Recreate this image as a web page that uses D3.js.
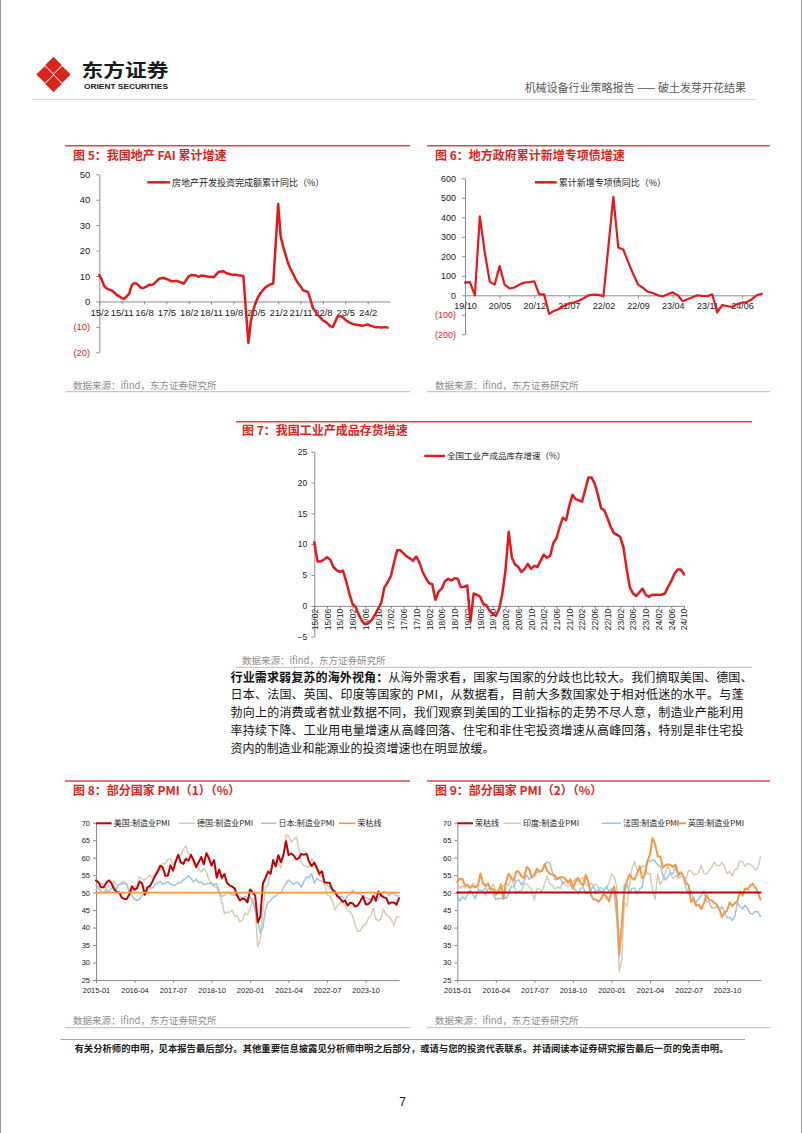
<!DOCTYPE html>
<html><head><meta charset="utf-8">
<script src="https://cdn.jsdelivr.net/npm/d3@7"></script>
<style>body{margin:0;background:#fff}svg{display:block}</style>
</head><body>
<svg id="page" width="802" height="1133"></svg>
<script>
// ---------------- DATA ----------------
const faiTicks = ['15/2','15/11','16/8','17/5','18/2','18/11','19/8','20/5','21/2','21/11','22/8','23/5','24/2'];
// 房地产开发投资完成额累计同比, 2015/2 .. 2024/11 (January has no data)
const faiValues = [
  10.4, 8.5, 6.0, 5.1, 4.6, 4.3, 3.5, 2.6, 2.0, 1.3, 1.0,
  null, 3.0, 6.2, 7.2, 7.0, 6.1, 5.3, 5.4, 5.8, 6.6, 6.5, 6.9,
  null, 8.9, 9.1, 9.3, 8.8, 8.5, 7.9, 7.9, 8.1, 7.8, 7.5, 7.0,
  null, 9.9, 10.4, 10.3, 10.2, 9.7, 10.2, 10.1, 9.9, 9.7, 9.7, 9.5,
  null, 11.6, 11.8, 11.9, 11.2, 10.9, 10.6, 10.5, 10.5, 10.3, 10.2, 9.9,
  null, -16.3, -7.7, -3.3, -0.3, 1.9, 3.4, 4.6, 5.6, 6.3, 6.8, 7.0,
  null, 38.3, 25.6, 21.6, 18.3, 15.0, 12.7, 10.9, 8.8, 7.2, 6.0, 4.4,
  null, 3.7, 0.7, -2.7, -4.0, -5.4, -6.4, -7.4, -8.0, -8.8, -9.8, -10.0,
  null, -5.7, -5.8, -6.2, -7.2, -7.9, -8.5, -8.8, -9.1, -9.3, -9.4, -9.6,
  null, -9.0, -9.5, -9.8, -10.1, -10.1, -10.2, -10.2, -10.1, -10.3, null
];
const faiYTicks = [50, 40, 30, 20, 10, 0, -10, -20];

const bondTicks = ['19/10','20/05','20/12','21/07','22/02','22/09','23/04','23/11','24/06'];
// 累计新增专项债同比, 2019/10 .. 2024/10
const bondValues = [
  65, 68, 0, 405, 220, 70, 55, 150, 55, 35,
  40, 55, 65, 68, 72, 5, 5, -95, -80, -70,
  -55, -42, -38, -28, -15, 0, 3, 2, -5, 250,
  505, 245, 235, 170, 110, 55, 38, 18, 12, 0,
  -5, 5, 15, 0, -30, -20, -10, 0, -3, -5,
  5, -88, -50, -55, -60, -45, -38, -35, -20, 0, 8
];
const bondYTicks = [600, 500, 400, 300, 200, 100, 0, -100, -200];

// 全国工业产成品库存增速, 2015/02 .. 2024/10
const invValues = [
  10.3, 7.2, 7.2, 7.5, 7.9, 7.5, 6.3, 5.8, 5.5, 5.7, 4.0,
  2.0, 0.3, -0.2, -1.5, -2.5, -3.0, -2.8, -2.3, -1.5, -0.5, 0.5, 3.0,
  3.8, 4.8, 7.0, 9.0, 9.0, 8.5, 8.0, 7.7, 7.3, 8.0, 7.0, 5.5,
  4.5, 3.7, 3.5, 1.0, 2.3, 2.8, 4.0, 4.4, 4.1, 4.5, 4.4, 3.0,
  3.1, 3.3, -2.5, 2.0, 1.8, 1.5, 0.3, 0.1, -0.8, -1.3, -1.6, -0.5,
  2.0, 5.8, 12.0, 7.8, 6.7, 6.3, 5.5, 6.0, 6.8, 6.0, 6.5, 6.3,
  7.3, 8.3, 7.8, 8.1, 10.2, 11.0, 12.8, 14.3, 13.9, 16.2, 18.0, 17.3,
  17.1, 16.9, 18.8, 20.8, 20.8, 19.8, 18.0, 15.8, 15.5, 14.2, 12.8, 11.8,
  11.5, 11.2, 9.5, 6.0, 3.0, 2.0, 1.6, 2.2, 2.8, 1.8, 1.5, 1.8,
  1.8, 1.8, 1.8, 2.0, 3.1, 4.0, 5.2, 5.9, 5.9, 5.1
];
const invTicks = ['15/02','15/06','15/10','16/02','16/06','16/10','17/02','17/06','17/10','18/02','18/06','18/10',
  '19/02','19/06','19/10','20/02','20/06','20/10','21/02','21/06','21/10','22/02','22/06','22/10',
  '23/02','23/06','23/10','24/02','24/06','24/10'];
const invYTicks = [25, 20, 15, 10, 5, 0, -5];

// PMI 2015-01 .. 2024-11
const pmiTicks = ['2015-01','2016-04','2017-07','2018-10','2020-01','2021-04','2022-07','2023-10'];
const pmiYTicks = [70, 65, 60, 55, 50, 45, 40, 35, 30, 25];
const usPMI = [
  53.5,52.9,51.5,51.5,52.8,53.5,52.7,51.1,50.2,50.1,48.6,48.2,
  48.2,49.5,51.8,50.8,51.3,53.2,52.6,49.4,51.5,51.9,53.2,54.7,
  56.0,57.7,57.2,54.8,54.9,57.8,56.3,58.8,60.8,58.7,58.2,59.7,
  59.1,60.8,59.3,57.3,58.7,60.2,58.1,61.3,59.8,57.7,59.3,54.3,
  56.6,54.2,55.3,52.8,52.1,51.7,51.2,49.1,47.8,48.3,48.1,47.2,
  50.9,50.1,49.1,41.5,43.1,52.6,54.2,56.0,55.4,59.3,57.5,60.7,
  58.7,60.8,64.7,60.7,61.2,60.6,59.5,59.9,61.1,60.8,61.1,58.8,
  57.6,58.6,57.1,55.4,56.1,53.0,52.8,52.8,50.9,50.2,49.0,48.4,
  47.4,47.7,46.3,47.1,46.9,46.0,46.4,47.6,49.0,46.7,46.7,47.4,
  49.1,47.8,50.3,49.2,48.7,48.5,46.8,47.2,47.2,46.5,48.4
];
const dePMI = [
  50.9,51.1,52.8,52.0,51.1,51.9,51.8,53.3,52.3,52.1,52.9,53.2,
  52.3,50.5,50.7,51.8,52.1,54.5,53.8,53.6,54.3,55.0,54.3,55.6,
  56.4,56.8,58.3,58.2,59.5,59.6,58.1,59.3,60.6,60.6,62.5,63.3,
  61.1,60.6,58.2,58.1,56.9,55.9,56.9,55.9,53.7,52.2,51.8,51.5,
  49.7,47.6,44.1,44.4,44.3,45.0,43.2,43.5,41.7,42.1,44.1,43.7,
  45.3,48.0,45.4,34.5,36.6,45.2,51.0,52.2,56.4,58.2,57.8,58.3,
  57.1,60.7,66.6,66.2,64.4,65.1,65.9,62.6,58.4,57.8,57.4,57.4,
  59.8,58.4,56.9,54.6,54.8,52.0,49.3,49.1,47.8,45.1,46.2,47.1,
  47.3,46.3,44.7,44.5,43.2,40.6,38.8,39.1,40.6,40.8,42.6,43.3,
  45.5,42.5,41.9,42.5,45.4,43.5,43.2,42.4,40.6,43.0,43.0
];
const jpPMI = [
  52.2,51.6,50.3,49.9,50.9,50.1,51.2,51.7,51.0,52.4,52.6,52.6,
  52.3,50.1,49.1,48.2,47.7,48.1,49.3,49.5,50.4,51.4,51.3,52.4,
  52.7,53.3,52.4,52.7,53.1,52.4,52.1,52.2,52.9,52.8,53.6,54.0,
  54.8,54.1,53.1,53.8,52.8,53.0,52.3,52.5,52.5,52.9,52.2,52.6,
  50.3,48.9,49.2,50.2,49.8,49.3,49.4,49.3,48.9,48.4,48.9,48.4,
  48.8,47.8,44.8,41.9,38.4,40.1,45.2,47.2,47.7,48.7,49.0,50.0,
  49.8,51.4,52.7,53.6,53.0,52.4,53.0,52.7,51.5,53.2,54.5,54.3,
  55.4,52.7,54.1,53.5,53.3,52.7,52.1,51.5,50.8,50.7,49.0,48.9,
  48.9,47.7,49.2,49.5,50.6,49.8,49.6,49.6,48.5,48.7,48.3,47.9,
  48.0,47.2,48.2,49.6,50.4,50.0,49.1,49.8,49.7,49.2,49.0
];
const inPMI = [
  52.9,51.2,52.1,51.3,52.6,51.3,52.7,52.3,51.2,50.7,50.3,49.1,
  51.1,51.1,52.4,50.5,50.7,51.7,51.8,52.6,52.1,54.4,52.3,49.6,
  50.4,50.7,52.5,52.5,51.6,50.9,47.9,51.2,51.0,50.3,52.6,54.7,
  52.4,52.1,51.0,51.6,51.2,53.1,52.3,51.7,52.2,53.1,54.0,53.2,
  53.9,54.3,52.6,51.8,52.7,52.1,52.5,51.4,51.4,50.6,51.2,52.7,
  55.3,54.5,51.8,27.4,30.8,47.2,46.0,52.0,56.8,58.9,56.3,56.4,
  57.7,57.5,55.4,55.5,50.8,48.1,55.3,52.3,53.7,55.9,57.6,55.5,
  54.0,54.9,54.0,54.7,54.6,53.9,56.4,56.2,55.1,55.3,55.7,57.8,
  55.4,55.3,56.4,57.2,58.7,57.8,57.7,58.6,57.5,55.5,56.0,54.9,
  56.5,56.9,59.1,58.8,57.5,58.3,58.1,57.5,56.5,57.0,60.2
];
const frPMI = [
  49.2,47.6,48.8,48.0,49.4,50.7,49.6,48.3,50.6,50.6,50.6,51.4,
  50.0,50.2,49.6,48.0,48.4,48.3,48.6,48.3,49.7,51.8,51.7,53.5,
  53.6,52.2,53.3,55.1,53.8,54.8,54.9,55.8,56.1,56.1,57.7,58.8,
  58.4,55.9,53.7,53.8,54.4,52.5,53.3,53.5,52.5,51.2,50.8,49.7,
  51.2,51.5,49.7,50.0,50.6,52.0,49.7,51.1,50.1,50.7,51.7,50.4,
  51.1,49.8,43.2,31.5,40.6,52.3,52.4,49.8,51.2,51.3,49.6,51.1,
  51.6,56.1,59.3,58.9,59.4,59.0,58.0,57.5,55.0,53.6,54.6,55.6,
  55.5,57.2,54.7,55.7,54.6,51.4,49.5,50.6,47.7,47.2,48.3,49.2,
  50.5,47.4,47.3,45.6,45.7,46.0,45.1,46.0,44.2,42.8,42.9,42.1,
  43.1,47.1,46.2,45.3,46.4,45.4,44.0,43.9,44.6,44.5,43.1
];
const ukPMI = [
  53.0,54.0,54.0,52.0,52.0,51.4,51.9,51.5,51.8,55.5,52.7,51.9,
  52.6,50.8,51.0,49.4,50.1,52.4,48.2,53.3,55.4,54.3,53.4,56.1,
  55.9,54.6,54.2,57.3,56.7,54.3,55.1,56.9,55.9,56.3,58.2,56.3,
  55.3,55.2,54.9,53.9,54.4,54.4,54.0,52.8,53.8,51.1,53.1,54.2,
  52.8,52.0,55.1,53.1,49.4,48.0,48.0,47.4,48.3,49.6,48.9,47.5,
  50.0,51.7,47.8,32.6,40.7,50.1,53.3,55.2,54.1,53.7,55.6,57.5,
  54.1,55.1,58.9,60.9,65.6,63.9,60.4,60.3,57.1,57.8,58.1,57.9,
  57.3,58.0,55.2,55.8,54.6,52.8,52.1,47.3,48.4,46.2,46.5,45.3,
  47.0,49.3,47.9,47.8,47.1,46.5,45.3,43.0,44.3,44.8,47.2,46.2,
  47.0,47.5,50.3,49.1,51.2,50.9,52.1,52.5,51.5,49.9,48.0
];
const boomLine = 50;

// ---------------- HELPERS ----------------
const CJK = '"Noto Sans CJK SC","Noto Sans",sans-serif';
const LAT = '"Liberation Sans",Arial,sans-serif';
const RED = '#E3191B';
const TITLE_RED = '#DA251D';
const AXIS = '#8c8c8c';

function monthSeq(y, m, n, fmt) {
  const out = [];
  for (let i = 0; i < n; i++) { out.push(fmt(y, m)); m++; if (m > 12) { m = 1; y++; } }
  return out;
}
const yy = y => String(y % 100).padStart(2, '0');
const mm = m => String(m).padStart(2, '0');

const faiMonths = monthSeq(2015, 2, faiValues.length, (y, m) => `${yy(y)}/${m}`);
const bondMonths = monthSeq(2019, 10, bondValues.length, (y, m) => `${yy(y)}/${mm(m)}`);
const invMonths = monthSeq(2015, 2, invValues.length, (y, m) => `${yy(y)}/${mm(m)}`);
const pmiMonths = monthSeq(2015, 1, usPMI.length, (y, m) => `${y}-${mm(m)}`);

const svg = d3.select('#page');
svg.append('rect').attr('width', 802).attr('height', 1133).attr('fill', '#fff');

function styleAxis(g, size, fill) {
  g.attr('font-family', null).attr('font-size', null);
  g.selectAll('path.domain').attr('stroke', AXIS).attr('stroke-width', 1);
  g.selectAll('.tick line').attr('stroke', AXIS);
  g.selectAll('.tick text').attr('font-family', LAT).attr('font-size', size).attr('fill', fill || '#222');
}

function frame(x1, x2, topY, title, titleX, titleY, srcX, srcY, botY) {
  svg.append('line').attr('x1', x1).attr('x2', x2).attr('y1', topY).attr('y2', topY)
    .attr('stroke', '#D94A4A').attr('stroke-width', 1.6);
  svg.append('text').attr('x', titleX).attr('y', titleY).text(title)
    .attr('font-family', CJK).attr('font-size', 12).attr('font-weight', 'bold').attr('fill', TITLE_RED);
  svg.append('text').attr('x', srcX).attr('y', srcY).text('数据来源：ifind，东方证券研究所')
    .attr('font-family', CJK).attr('font-size', 9.5).attr('fill', '#8c8c8c');
  svg.append('line').attr('x1', x1).attr('x2', x2).attr('y1', botY).attr('y2', botY)
    .attr('stroke', '#EBA8A8').attr('stroke-width', 1);
}

function drawLine(x, y, cats, vals, color, width) {
  const data = cats.map((c, i) => ({ c, v: vals[i] })).filter(d => d.v != null);
  svg.append('path').datum(data)
    .attr('fill', 'none').attr('stroke', color).attr('stroke-width', width)
    .attr('stroke-linejoin', 'round').attr('stroke-linecap', 'round')
    .attr('d', d3.line().x(d => x(d.c)).y(d => y(d.v)));
}

function legendItem(x1, x2, y, text, color, width, size) {
  svg.append('line').attr('x1', x1).attr('x2', x2).attr('y1', y).attr('y2', y)
    .attr('stroke', color).attr('stroke-width', width);
  svg.append('text').attr('x', x2 + 2).attr('y', y).attr('dy', '0.36em').text(text)
    .attr('font-family', CJK).attr('font-size', size).attr('fill', '#222');
}

const parenFmt = d => d < 0 ? `(${-d})` : `${d}`;

// ---------------- PAGE HEADER ----------------
svg.append('line').attr('x1', 0.5).attr('x2', 0.5).attr('y1', 0).attr('y2', 1133).attr('stroke', '#9a9a9a');
svg.append('line').attr('x1', 801.5).attr('x2', 801.5).attr('y1', 0).attr('y2', 1133).attr('stroke', '#9a9a9a');
const logo = svg.append('g');
[[53.5, 65.2], [44.8, 74.5], [62.2, 74.5], [53.5, 83.8]].forEach(([cx, cy]) => {
  const r = 7.6;
  logo.append('path').attr('d', `M${cx},${cy - r}L${cx + r},${cy}L${cx},${cy + r}L${cx - r},${cy}Z`)
    .attr('fill', '#D7261E').attr('stroke', '#D7261E').attr('stroke-width', 1.2).attr('stroke-linejoin', 'round');
});
svg.append('text').attr('x', 81.5).attr('y', 77).text('东方证券')
  .attr('font-family', CJK).attr('font-size', 18).attr('font-weight', 'bold').attr('fill', '#1a1a1a')
  .attr('textLength', 87).attr('lengthAdjust', 'spacingAndGlyphs');
svg.append('text').attr('x', 84).attr('y', 88.5).text('ORIENT SECURITIES')
  .attr('font-family', LAT).attr('font-size', 7.8).attr('font-weight', 'bold').attr('fill', '#1a1a1a')
  .attr('textLength', 84).attr('lengthAdjust', 'spacingAndGlyphs');
svg.append('text').attr('x', 746).attr('y', 92).attr('text-anchor', 'end')
  .text('机械设备行业策略报告 —— 破土发芽开花结果')
  .attr('font-family', CJK).attr('font-size', 11).attr('fill', '#595959');
svg.append('line').attr('x1', 32).attr('x2', 756).attr('y1', 99.5).attr('y2', 99.5)
  .attr('stroke', '#d9d9d9').attr('stroke-width', 1);

// ---------------- CHART 5 ----------------
frame(65, 410, 145.7, '图 5：我国地产 FAI 累计增速', 73, 159.6, 73, 388.6, 391.7);
{
  const x = d3.scalePoint().domain(faiMonths).range([99.3, 390]);
  const y = d3.scaleLinear().domain([-20, 50]).range([352.3, 174.3]);
  const gy = svg.append('g').attr('transform', 'translate(99.3,0)')
    .call(d3.axisLeft(y).tickValues(faiYTicks).tickFormat(parenFmt).tickSize(3).tickSizeOuter(0).tickPadding(6));
  styleAxis(gy, 9.5);
  gy.selectAll('.tick text').attr('fill', d => d < 0 ? RED : '#222');
  const gx = svg.append('g').attr('transform', `translate(0,${y(0)})`)
    .call(d3.axisBottom(x).tickValues(faiTicks).tickSize(3).tickSizeOuter(0).tickPadding(5));
  styleAxis(gx, 9.5);
  drawLine(x, y, faiMonths, faiValues, RED, 2.5);
  legendItem(147.3, 170, 182.3, '房地产开发投资完成额累计同比（%）', RED, 2.5, 9);
}

// ---------------- CHART 6 ----------------
frame(427, 770, 145.7, '图 6：地方政府累计新增专项债增速', 435, 159.6, 435, 388.6, 391.7);
{
  const x = d3.scalePoint().domain(bondMonths).range([465, 761.7]);
  const y = d3.scaleLinear().domain([-200, 600]).range([334.3, 178.3]);
  const gy = svg.append('g').attr('transform', 'translate(465,0)')
    .call(d3.axisLeft(y).tickValues(bondYTicks).tickFormat(parenFmt).tickSize(3).tickSizeOuter(0).tickPadding(6));
  styleAxis(gy, 9);
  gy.selectAll('.tick text').attr('fill', d => d < 0 ? RED : '#222');
  const gx = svg.append('g').attr('transform', `translate(0,${y(0)})`)
    .call(d3.axisBottom(x).tickValues(bondTicks).tickSize(3).tickSizeOuter(0).tickPadding(4));
  styleAxis(gx, 9);
  drawLine(x, y, bondMonths, bondValues, RED, 2.2);
  legendItem(535, 556.7, 182.3, '累计新增专项债同比（%）', RED, 2.5, 9);
}

// ---------------- CHART 7 ----------------
frame(236, 752, 421.7, '图 7：我国工业产成品存货增速', 242, 434.6, 242, 663.6, 667.3);
{
  const x = d3.scalePoint().domain(invMonths).range([314.3, 684]);
  const y = d3.scaleLinear().domain([-5, 25]).range([636.7, 451.7]);
  const gy = svg.append('g').attr('transform', 'translate(314.3,0)')
    .call(d3.axisLeft(y).tickValues(invYTicks).tickSize(3).tickSizeOuter(0).tickPadding(4));
  styleAxis(gy, 8.5);
  const gx = svg.append('g').attr('transform', `translate(0,${y(0)})`)
    .call(d3.axisBottom(x).tickValues(invTicks).tickSize(3).tickSizeOuter(0));
  styleAxis(gx, 8.5);
  gx.selectAll('.tick text').attr('transform', 'rotate(-90)').attr('text-anchor', 'end')
    .attr('x', -3).attr('y', 0).attr('dy', '0.35em');
  drawLine(x, y, invMonths, invValues, RED, 2.5);
  legendItem(424.3, 445, 456, '全国工业产成品库存增速（%）', RED, 2.5, 8.5);
}

// ---------------- PARAGRAPH ----------------
{
  const lines = [
    ['行业需求弱复苏的海外视角：', '从海外需求看，国家与国家的分歧也比较大。我们摘取美国、德国、', 522],
    ['', '日本、法国、英国、印度等国家的 PMI，从数据看，目前大多数国家处于相对低迷的水平。与蓬', 513],
    ['', '勃向上的消费或者就业数据不同，我们观察到美国的工业指标的走势不尽人意，制造业产能利用', 513],
    ['', '率持续下降、工业用电量增速从高峰回落、住宅和非住宅投资增速从高峰回落，特别是非住宅投', 513],
    ['', '资内的制造业和能源业的投资增速也在明显放缓。', null]
  ];
  lines.forEach(([b, t, w], i) => {
    const tx = svg.append('text').attr('x', 230.5).attr('y', 681.5 + i * 17.9)
      .attr('font-family', CJK).attr('font-size', 12).attr('fill', '#111');
    if (b) tx.append('tspan').attr('font-weight', 'bold').text(b);
    tx.append('tspan').text(t);
    if (w) tx.attr('textLength', w).attr('lengthAdjust', 'spacing');
  });
}

// ---------------- CHART 8 / 9 ----------------
function pmiChart(x0, x1, seriesList, legend) {
  const x = d3.scalePoint().domain(pmiMonths).range([x0, x1]);
  const y = d3.scaleLinear().domain([25, 70]).range([980, 822.7]);
  const gy = svg.append('g').attr('transform', `translate(${x0},0)`)
    .call(d3.axisLeft(y).tickValues(pmiYTicks).tickSize(3).tickSizeOuter(0).tickPadding(3));
  styleAxis(gy, 7.5);
  const gx = svg.append('g').attr('transform', 'translate(0,980)')
    .call(d3.axisBottom(x).tickValues(pmiTicks).tickSize(3).tickSizeOuter(0).tickPadding(5));
  styleAxis(gx, 7.5);
  seriesList.forEach(s => {
    const vals = Array.isArray(s.v) ? s.v : pmiMonths.map(() => s.v);
    drawLine(x, y, pmiMonths, vals, s.color, s.width);
  });
  legend.forEach(l => legendItem(l.x1, l.x2, 823.3, l.name, l.color, l.width, 8));
}

frame(65, 410, 781, '图 8：部分国家 PMI（1）（%）', 73, 794.6, 73, 1023.6, 1027.7);
pmiChart(96, 399, [
  { v: dePMI, color: '#D9CAB3', width: 1.5 },
  { v: jpPMI, color: '#9DC3E6', width: 1.5 },
  { v: usPMI, color: '#C00000', width: 2 },
  { v: boomLine, color: '#F79646', width: 1.6 }
], [
  { x1: 96, x2: 111.7, name: '美国:制造业PMI', color: '#C00000', width: 2 },
  { x1: 179.3, x2: 195, name: '德国:制造业PMI', color: '#D9CAB3', width: 1.5 },
  { x1: 261, x2: 276.5, name: '日本:制造业PMI', color: '#9DC3E6', width: 1.5 },
  { x1: 339, x2: 355.5, name: '荣枯线', color: '#F79646', width: 1.6 }
]);

frame(427, 770, 781, '图 9：部分国家 PMI（2）（%）', 435, 794.6, 435, 1023.6, 1027.7);
pmiChart(457.3, 760.5, [
  { v: inPMI, color: '#D9CAB3', width: 1.5 },
  { v: frPMI, color: '#9DC3E6', width: 1.5 },
  { v: ukPMI, color: '#F79646', width: 2 },
  { v: boomLine, color: '#C00000', width: 2 }
], [
  { x1: 457.3, x2: 473, name: '荣枯线', color: '#C00000', width: 2 },
  { x1: 503.3, x2: 521, name: '印度:制造业PMI', color: '#D9CAB3', width: 1.5 },
  { x1: 602, x2: 621, name: '法国:制造业PMI', color: '#9DC3E6', width: 1.5 },
  { x1: 668, x2: 686, name: '英国:制造业PMI', color: '#F79646', width: 2 }
]);

// ---------------- FOOTER ----------------
svg.append('line').attr('x1', 60.5).attr('x2', 745).attr('y1', 1039.5).attr('y2', 1039.5)
  .attr('stroke', '#a6a6a6').attr('stroke-width', 1);
svg.append('text').attr('x', 74.5).attr('y', 1051.8)
  .text('有关分析师的申明，见本报告最后部分。其他重要信息披露见分析师申明之后部分，或请与您的投资代表联系。并请阅读本证券研究报告最后一页的免责申明。')
  .attr('font-family', CJK).attr('font-size', 9.5).attr('font-weight', 'bold').attr('fill', '#222')
  .attr('textLength', 654).attr('lengthAdjust', 'spacingAndGlyphs');
svg.append('text').attr('x', 402.5).attr('y', 1106).attr('text-anchor', 'middle').text('7')
  .attr('font-family', LAT).attr('font-size', 12).attr('fill', '#222');
</script>
</body></html>
